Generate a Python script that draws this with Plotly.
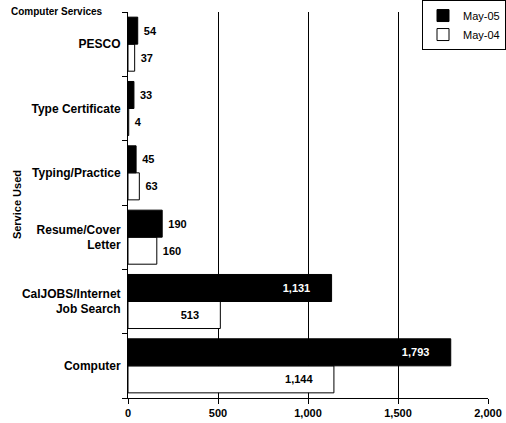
import plotly.graph_objects as go

categories = ["Computer", "CalJOBS/Internet<br>Job Search", "Resume/Cover<br>Letter",
              "Typing/Practice", "Type Certificate", "PESCO"]
may05 = [1793, 1131, 190, 45, 33, 54]
may04 = [1144, 513, 160, 63, 4, 37]
x_ticks = [0, 500, 1000, 1500, 2000]

FONT = "Liberation Sans, Arial, sans-serif"

def positions(vals):
    return ["inside" if v > 400 else "outside" for v in vals]

def labels(vals):
    return [f"{v:,}      " if v > 400 else f" {v:,}" for v in vals]

fig = go.Figure()
fig.add_trace(go.Bar(
    y=categories, x=may04, orientation="h", name="May-04",
    marker=dict(color="white", line=dict(color="black", width=1)),
    text=labels(may04), textposition=positions(may04),
    insidetextanchor="end",
    insidetextfont=dict(color="black", family=FONT, size=11, weight="bold"),
    outsidetextfont=dict(color="black", family=FONT, size=11, weight="bold"),
    cliponaxis=False,
))
fig.add_trace(go.Bar(
    y=categories, x=may05, orientation="h", name="May-05",
    marker=dict(color="black", line=dict(color="black", width=1)),
    text=labels(may05), textposition=positions(may05),
    insidetextanchor="end",
    insidetextfont=dict(color="white", family=FONT, size=11, weight="bold"),
    outsidetextfont=dict(color="black", family=FONT, size=11, weight="bold"),
    cliponaxis=False,
))

fig.update_layout(
    width=506, height=423,
    margin=dict(l=128, r=18, t=12, b=25, autoexpand=False),
    barmode="group", bargap=0.16, bargroupgap=0,
    plot_bgcolor="white", paper_bgcolor="white",
    font=dict(family=FONT, size=11, color="black"),
    showlegend=True,
    legend=dict(
        x=1.05, y=1.031, xanchor="right", yanchor="top",
        traceorder="reversed", bordercolor="black", borderwidth=1,
        bgcolor="white", font=dict(size=11, family=FONT),
        itemwidth=30, tracegroupgap=0,
    ),
    xaxis=dict(
        range=[0, 2000], tickvals=x_ticks, tickformat=",",
        showgrid=True, gridcolor="black", gridwidth=1,
        zeroline=False, showline=True, linecolor="black", linewidth=1,
        ticks="outside", ticklen=5, tickcolor="black",
        tickfont=dict(family=FONT, size=11, weight="bold"),
    ),
    yaxis=dict(
        tickson="boundaries", ticks="outside", ticklen=5, tickcolor="black",
        showline=True, linecolor="black", linewidth=1,
        showgrid=False, ticklabelstandoff=4,
        tickfont=dict(family=FONT, size=12, weight="bold"),
    ),
    annotations=[
        dict(
            text="Computer Services", xref="paper", yref="paper",
            x=-0.33, y=1.022, xanchor="left", yanchor="top", showarrow=False,
            font=dict(family=FONT, size=10, weight="bold"),
        ),
        dict(
            text="Service Used", xref="paper", yref="paper", textangle=-90,
            x=-0.308, y=0.5, xanchor="center", yanchor="middle", showarrow=False,
            font=dict(family=FONT, size=11, weight="bold"),
        ),
    ],
)

fig.write_html("out.html")
